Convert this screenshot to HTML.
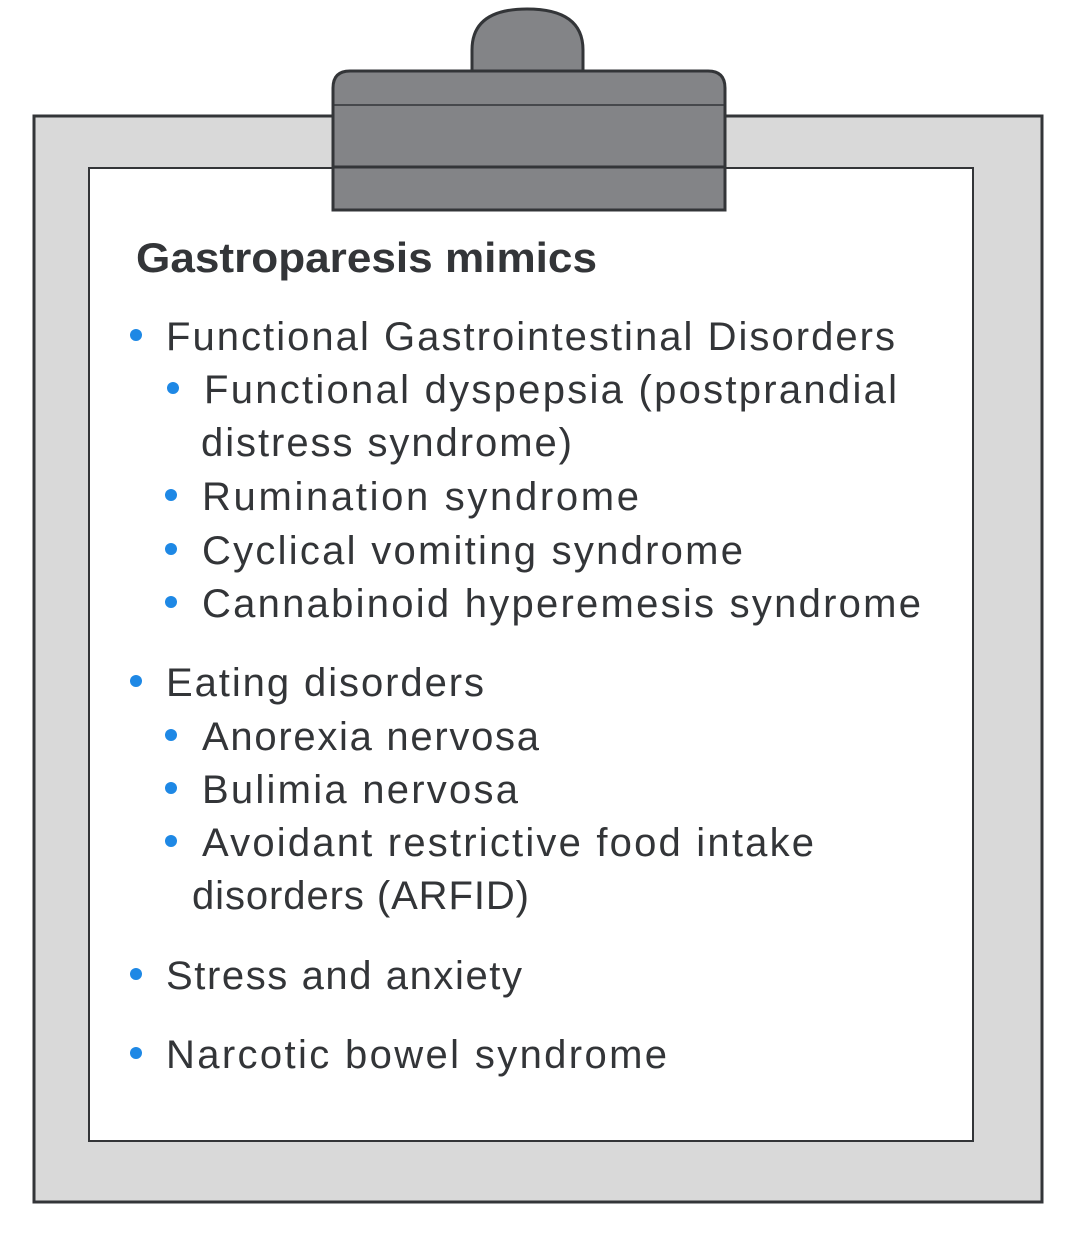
<!DOCTYPE html>
<html><head><style>html,body{margin:0;padding:0;background:#fff}svg{display:block}</style></head>
<body>
<svg width="1078" height="1242" viewBox="0 0 1078 1242" xmlns="http://www.w3.org/2000/svg">
<rect x="34" y="116" width="1008" height="1086" fill="#d9d9d9" stroke="#333538" stroke-width="3"/>
<rect x="89" y="168" width="884" height="973" fill="#fff" stroke="#333538" stroke-width="2"/>
<path d="M472,71 L472,50 Q472,9 527,9 Q583,9 583,50 L583,71 Z" fill="#838487" stroke="#333538" stroke-width="3"/>
<path d="M333,210 L333,88 Q333,71 350,71 L708,71 Q725,71 725,88 L725,210 Z" fill="#838487" stroke="#333538" stroke-width="3"/>
<line x1="333" y1="105" x2="725" y2="105" stroke="#333538" stroke-width="1.5"/>
<line x1="333" y1="167" x2="725" y2="167" stroke="#333538" stroke-width="3"/>
<g font-family="Liberation Sans, sans-serif" fill="#333538">
<text x="136" y="272" font-size="42" font-weight="bold" textLength="461" lengthAdjust="spacingAndGlyphs">Gastroparesis mimics</text>
<g font-size="40" lengthAdjust="spacingAndGlyphs">
<text x="166" y="350" textLength="729">Functional Gastrointestinal Disorders</text>
<text x="204" y="403" textLength="693">Functional dyspepsia (postprandial</text>
<text x="201" y="456" textLength="371">distress syndrome)</text>
<text x="202" y="510" textLength="437">Rumination syndrome</text>
<text x="202" y="564" textLength="541">Cyclical vomiting syndrome</text>
<text x="202" y="617" textLength="719">Cannabinoid hyperemesis syndrome</text>
<text x="166" y="696" textLength="318">Eating disorders</text>
<text x="202" y="750" textLength="337">Anorexia nervosa</text>
<text x="202" y="803" textLength="316">Bulimia nervosa</text>
<text x="202" y="856" textLength="612">Avoidant restrictive food intake</text>
<text x="192" y="909" textLength="337">disorders (ARFID)</text>
<text x="166" y="989" textLength="356">Stress and anxiety</text>
<text x="166" y="1068" textLength="501">Narcotic bowel syndrome</text>
</g>
</g>
<g fill="#1e88e5">
<circle cx="136" cy="335" r="6"/>
<circle cx="173" cy="388" r="6"/>
<circle cx="171" cy="495" r="6"/>
<circle cx="171" cy="549" r="6"/>
<circle cx="171" cy="602" r="6"/>
<circle cx="136" cy="681" r="6"/>
<circle cx="171" cy="735" r="6"/>
<circle cx="171" cy="788" r="6"/>
<circle cx="171" cy="841" r="6"/>
<circle cx="136" cy="974" r="6"/>
<circle cx="136" cy="1053" r="6"/>
</g>
</svg>
</body></html>
